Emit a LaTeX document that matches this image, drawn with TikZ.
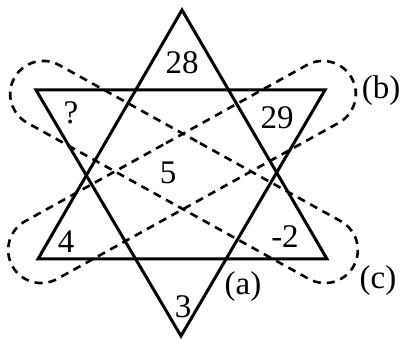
\documentclass[tikz,border=0pt]{standalone}
\usepackage{fontspec}
\setmainfont{Liberation Serif}
\usetikzlibrary{shapes.misc}

\begin{document}
\begin{tikzpicture}[
  x=1pt, y=-1pt,
  edge/.style={draw, line width=3pt, line join=miter},
  loopline/.style={rounded rectangle, draw, dash pattern=on 8pt off 6pt,
    line width=2.6pt, minimum width=388pt, minimum height=66pt,
    inner sep=0pt, outer sep=0pt},
  num/.style={inner sep=0pt, font=\fontsize{33}{35}\selectfont},
]
  \useasboundingbox (0,0) rectangle (405,339);

  \node[loopline, rotate=29] (loopb) at (182,172) {};
  \node[loopline, rotate=-29] (loopc) at (184,172) {};

  \coordinate (uTop) at (182,10);
  \coordinate (uLeft) at (38,259);
  \coordinate (uRight) at (327,259);
  \coordinate (dLeft) at (36,90);
  \coordinate (dRight) at (325,90);
  \coordinate (dBot) at (181,336);

  \draw[edge] (uTop) -- (uLeft) -- (uRight) -- cycle;
  \draw[edge] (dLeft) -- (dRight) -- (dBot) -- cycle;

  \node[num] (nTop) at (182,63) {28};
  \node[num] (nQ) at (71,113) {?};
  \node[num] (nTR) at (277,118) {29};
  \node[num] (nMid) at (168,173) {5};
  \node[num] (nBL) at (66,242) {4};
  \node[num] (nBR) at (285,237) {-2};
  \node[num] (nBot) at (183,307) {3};

  \node[num] (labA) at (243,287) {(a)};
  \node[num] (labB) at (381,91) {(b)};
  \node[num] (labC) at (378,281) {(c)};
\end{tikzpicture}
\end{document}
